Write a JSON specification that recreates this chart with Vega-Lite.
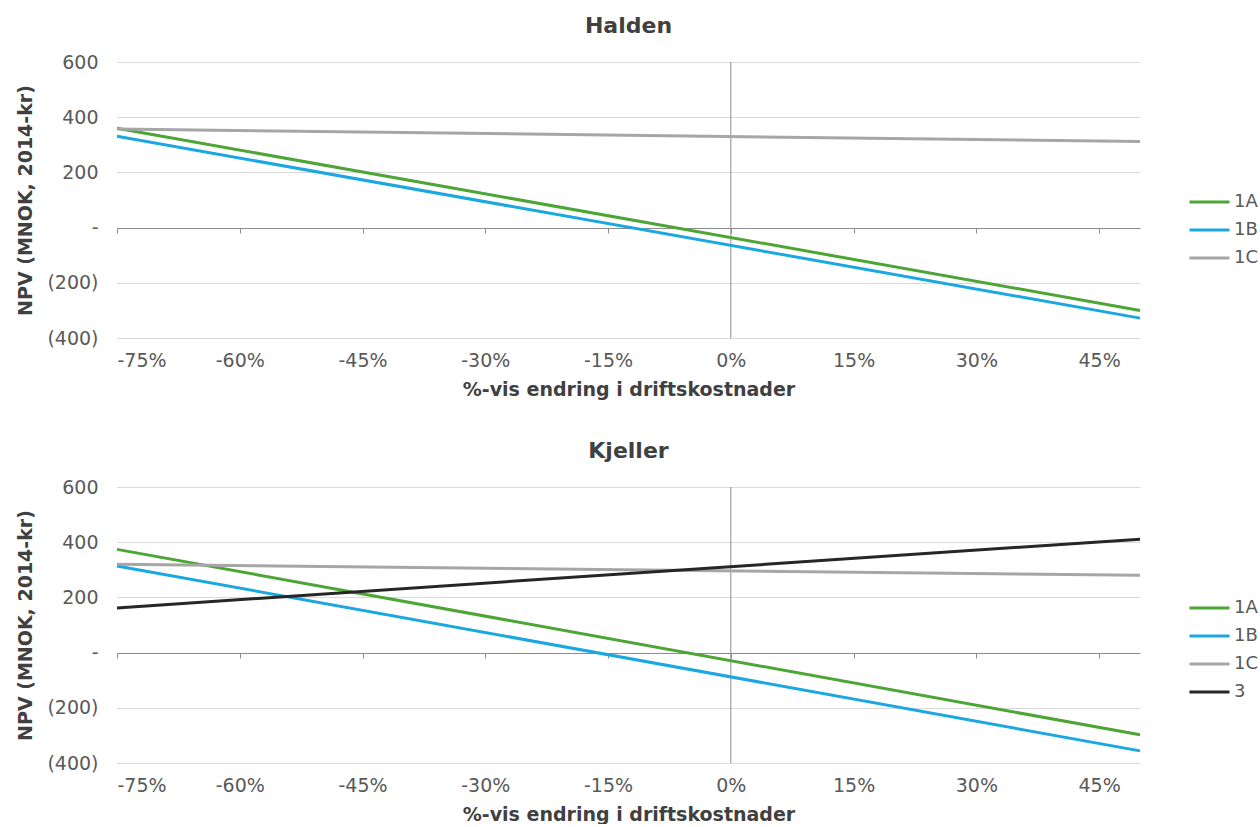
{
  "$schema": "https://vega.github.io/schema/vega-lite/v6.json",
  "background": "white",
  "padding": {"left": 16, "top": 15, "right": 5, "bottom": 0},
  "config": {
    "font": "DejaVu Sans",
    "view": {"stroke": null},
    "title": {"fontSize": 22, "fontWeight": "bold", "color": "#404040", "offset": 15, "font": "DejaVu Sans"},
    "axis": {"labelFont": "DejaVu Sans", "labelFontSize": 19, "labelColor": "#595959", "titleFont": "DejaVu Sans", "titleFontSize": 19, "titleColor": "#404040", "titleFontWeight": "bold"},
    "legend": {"labelFont": "DejaVu Sans", "labelFontSize": 18, "labelColor": "#595959", "symbolType": "stroke", "symbolStrokeWidth": 3, "symbolSize": 1600, "clipHeight": 20, "rowPadding": 8, "padding": 0, "labelOffset": 3},
    "concat": {"spacing": 41}
  },
  "datasets": {
    "npv": [
      {"panel": "Halden", "serie": "1A", "endring": -75, "npv": 360},
      {"panel": "Halden", "serie": "1A", "endring": 50, "npv": -300},
      {"panel": "Halden", "serie": "1B", "endring": -75, "npv": 331},
      {"panel": "Halden", "serie": "1B", "endring": 50, "npv": -328},
      {"panel": "Halden", "serie": "1C", "endring": -75, "npv": 357},
      {"panel": "Halden", "serie": "1C", "endring": 50, "npv": 312},
      {"panel": "Kjeller", "serie": "1A", "endring": -75, "npv": 374},
      {"panel": "Kjeller", "serie": "1A", "endring": 50, "npv": -298},
      {"panel": "Kjeller", "serie": "1B", "endring": -75, "npv": 314},
      {"panel": "Kjeller", "serie": "1B", "endring": 50, "npv": -356},
      {"panel": "Kjeller", "serie": "1C", "endring": -75, "npv": 320},
      {"panel": "Kjeller", "serie": "1C", "endring": 50, "npv": 280},
      {"panel": "Kjeller", "serie": "3", "endring": -75, "npv": 162},
      {"panel": "Kjeller", "serie": "3", "endring": 50, "npv": 411}
    ],
    "nullpunkt": [{"endring": 0}]
  },
  "vconcat": [
    {
      "width": 1023,
      "height": 276,
      "title": "Halden",
      "layer": [
        {
          "data": {"name": "nullpunkt"},
          "mark": {"type": "rule", "color": "#8c8c8c", "strokeWidth": 1},
          "encoding": {
            "x": {"field": "endring", "type": "quantitative", "scale": {"domain": [-75, 50], "nice": false, "zero": false},
              "axis": {"values": [-75, -60, -45, -30, -15, 0, 15, 30, 45], "labelExpr": "datum.value + '%'", "offset": -110, "domain": true, "domainColor": "#8c8c8c", "ticks": true, "tickSize": 5, "tickColor": "#8c8c8c", "labelPadding": 118, "grid": false, "title": "%-vis endring i driftskostnader", "titlePadding": 10}}
          }
        },
        {
          "data": {"name": "npv"},
          "transform": [{"filter": "datum.panel === 'Halden'"}],
          "mark": {"type": "line", "strokeWidth": 3},
          "encoding": {
            "x": {"field": "endring", "type": "quantitative", "scale": {"domain": [-75, 50], "nice": false, "zero": false},
              "axis": {"values": [-75, -60, -45, -30, -15, 0, 15, 30, 45], "labelExpr": "datum.value + '%'", "offset": -110, "domain": true, "domainColor": "#8c8c8c", "ticks": true, "tickSize": 5, "tickColor": "#8c8c8c", "labelPadding": 118, "grid": false, "title": "%-vis endring i driftskostnader", "titlePadding": 10}},
            "y": {"field": "npv", "type": "quantitative", "scale": {"domain": [-400, 600], "nice": false},
              "axis": {"values": [-400, -200, 0, 200, 400, 600], "labelExpr": "datum.value == 0 ? '-' : datum.value < 0 ? '(' + (-datum.value) + ')' : '' + datum.value", "domain": false, "ticks": false, "grid": true, "gridColor": "#d9d9d9", "labelPadding": 19, "title": "NPV (MNOK, 2014-kr)", "titlePadding": 11}},
            "color": {"field": "serie", "type": "nominal", "title": null,
              "scale": {"domain": ["1A", "1B", "1C"], "range": ["#4ca535", "#1ba8e0", "#a6a6a6"]},
              "legend": {"orient": "none", "legendX": 1071, "legendY": 130}}
          }
        }
      ]
    },
    {
      "width": 1023,
      "height": 276,
      "title": "Kjeller",
      "layer": [
        {
          "data": {"name": "nullpunkt"},
          "mark": {"type": "rule", "color": "#8c8c8c", "strokeWidth": 1},
          "encoding": {
            "x": {"field": "endring", "type": "quantitative", "scale": {"domain": [-75, 50], "nice": false, "zero": false},
              "axis": {"values": [-75, -60, -45, -30, -15, 0, 15, 30, 45], "labelExpr": "datum.value + '%'", "offset": -110, "domain": true, "domainColor": "#8c8c8c", "ticks": true, "tickSize": 5, "tickColor": "#8c8c8c", "labelPadding": 118, "grid": false, "title": "%-vis endring i driftskostnader", "titlePadding": 10}}
          }
        },
        {
          "data": {"name": "npv"},
          "transform": [{"filter": "datum.panel === 'Kjeller'"}],
          "mark": {"type": "line", "strokeWidth": 3},
          "encoding": {
            "x": {"field": "endring", "type": "quantitative", "scale": {"domain": [-75, 50], "nice": false, "zero": false},
              "axis": {"values": [-75, -60, -45, -30, -15, 0, 15, 30, 45], "labelExpr": "datum.value + '%'", "offset": -110, "domain": true, "domainColor": "#8c8c8c", "ticks": true, "tickSize": 5, "tickColor": "#8c8c8c", "labelPadding": 118, "grid": false, "title": "%-vis endring i driftskostnader", "titlePadding": 10}},
            "y": {"field": "npv", "type": "quantitative", "scale": {"domain": [-400, 600], "nice": false},
              "axis": {"values": [-400, -200, 0, 200, 400, 600], "labelExpr": "datum.value == 0 ? '-' : datum.value < 0 ? '(' + (-datum.value) + ')' : '' + datum.value", "domain": false, "ticks": false, "grid": true, "gridColor": "#d9d9d9", "labelPadding": 19, "title": "NPV (MNOK, 2014-kr)", "titlePadding": 11}},
            "color": {"field": "serie", "type": "nominal", "title": null,
              "scale": {"domain": ["1A", "1B", "1C", "3"], "range": ["#4ca535", "#1ba8e0", "#a6a6a6", "#262626"]},
              "legend": {"orient": "none", "legendX": 1071, "legendY": 111}}
          }
        }
      ]
    }
  ],
  "resolve": {"scale": {"color": "independent"}}
}
